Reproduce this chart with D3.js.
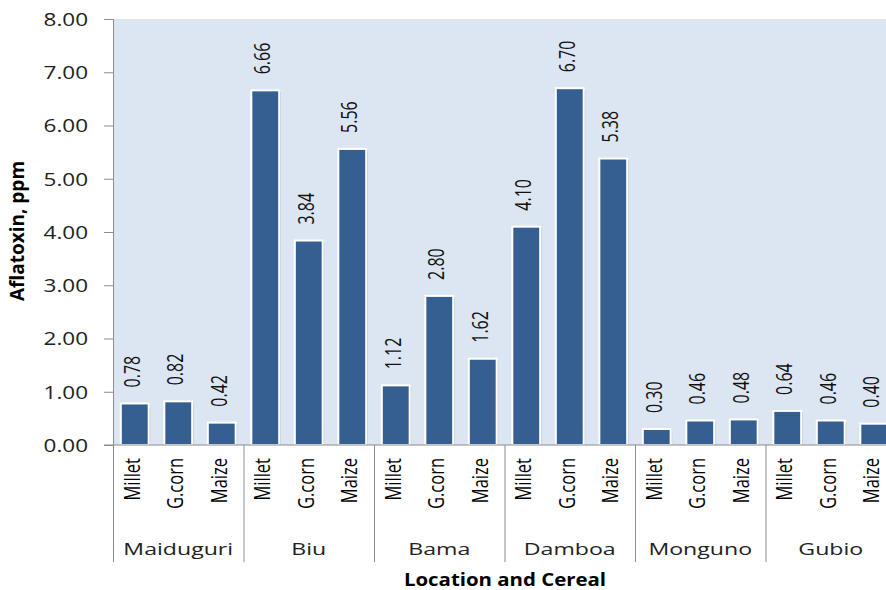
<!DOCTYPE html>
<html>
<head>
<meta charset="utf-8">
<script src="https://cdn.jsdelivr.net/npm/d3@7"></script>
<style>
  body { margin: 0; background: #fff; }
  svg { display: block; }
</style>
</head>
<body>
<div id="chart"></div>
<script>
// chart values
const locations = ["Maiduguri", "Biu", "Bama", "Damboa", "Monguno", "Gubio"];
const cereals = ["Millet", "G.corn", "Maize"];
const millet = [0.78, 6.66, 1.12, 4.10, 0.30, 0.64];
const gcorn  = [0.82, 3.84, 2.80, 6.70, 0.46, 0.46];
const maize  = [0.42, 5.56, 1.62, 5.38, 0.48, 0.40];
const yTicks = [0, 1, 2, 3, 4, 5, 6, 7, 8];

const series = [millet, gcorn, maize];
const rows = [];
locations.forEach((loc, i) => {
    cereals.forEach((c, j) => {
        rows.push({ key: loc + "|" + c, loc: loc, cereal: c, value: series[j][i] });
    });
});

const width = 886;
const height = 590;
const plotLeft = 113;
const plotTop = 19;
const plotBottom = 445;
const catWidth = 43.5;
const plotRight = plotLeft + rows.length * catWidth;
const font = "Open Sans, sans-serif";

const x = d3.scaleBand()
    .domain(rows.map(d => d.key))
    .range([plotLeft, plotRight])
    .paddingInner(0.36)
    .paddingOuter(0.18);

const y = d3.scaleLinear().domain([0, 8]).range([plotBottom, plotTop]);

const svg = d3.select("#chart").append("svg")
    .attr("width", width)
    .attr("height", height);

// plot background
svg.append("rect")
    .attr("x", plotLeft)
    .attr("y", plotTop)
    .attr("width", plotRight - plotLeft)
    .attr("height", plotBottom - plotTop)
    .attr("fill", "#dce6f2");

// bars, with a faint shadow and white edge
svg.append("g").selectAll("rect")
    .data(rows)
    .join("rect")
        .attr("x", d => x(d.key) + 1.5)
        .attr("y", d => y(d.value) + 1.5)
        .attr("width", x.bandwidth())
        .attr("height", d => plotBottom - y(d.value) - 1.5)
        .attr("fill", "#b9c3cf");

svg.append("g").selectAll("rect")
    .data(rows)
    .join("rect")
        .attr("x", d => x(d.key))
        .attr("y", d => y(d.value))
        .attr("width", x.bandwidth())
        .attr("height", d => plotBottom - y(d.value))
        .attr("fill", "#365f91")
        .attr("stroke", "#ffffff")
        .attr("stroke-width", 2);

// value labels, rotated (the picture is stretched sideways, so widen the glyphs)
svg.append("g").selectAll("text")
    .data(rows)
    .join("text")
        .attr("transform", d => `translate(${x(d.key) + x.bandwidth() / 2 + 5},${y(d.value) - 16}) rotate(-90) scale(1,1.4)`)
        .attr("text-anchor", "start")
        .attr("font-family", font)
        .attr("font-size", "16px")
        .attr("fill", "#111")
        .text(d => d.value.toFixed(2));

// y axis
const yAxis = d3.axisLeft(y)
    .tickValues(yTicks)
    .tickFormat(d3.format(".2f"))
    .tickSize(9);

const gy = svg.append("g")
    .attr("transform", `translate(${plotLeft},0)`)
    .call(yAxis);
gy.select(".domain").attr("stroke", "#8c8c8c");
gy.selectAll(".tick line").attr("stroke", "#8c8c8c");
gy.selectAll(".tick text")
    .attr("x", -20)
    .attr("dy", "0.36em")
    .attr("transform", "scale(1.25,1)")
    .attr("font-family", font)
    .attr("font-size", "18px")
    .attr("fill", "#222");

// x axis baseline
svg.append("line")
    .attr("x1", plotLeft - 9)
    .attr("x2", plotRight)
    .attr("y1", plotBottom)
    .attr("y2", plotBottom)
    .attr("stroke", "#8c8c8c");

// group separators
svg.append("g").selectAll("line")
    .data(locations)
    .join("line")
        .attr("x1", (d, i) => plotLeft + i * 3 * x.step() + 0.5)
        .attr("x2", (d, i) => plotLeft + i * 3 * x.step() + 0.5)
        .attr("y1", plotBottom)
        .attr("y2", 562)
        .attr("stroke", "#8c8c8c");

// cereal labels
svg.append("g").selectAll("text")
    .data(rows)
    .join("text")
        .attr("transform", d => `translate(${x(d.key) + x.bandwidth() / 2 + 5},458) rotate(-90) scale(1,1.35)`)
        .attr("text-anchor", "end")
        .attr("font-family", font)
        .attr("font-size", "16.5px")
        .attr("fill", "#000")
        .text(d => d.cereal);

// location labels
svg.append("g").selectAll("text")
    .data(locations)
    .join("text")
        .attr("transform", (d, i) => `translate(${plotLeft + (i * 3 + 1.5) * x.step()},555) scale(1.36,1)`)
        .attr("text-anchor", "middle")
        .attr("font-family", font)
        .attr("font-size", "17px")
        .attr("fill", "#222")
        .text(d => d);

// axis titles
svg.append("text")
    .attr("transform", "translate(505,586) scale(1.2,1)")
    .attr("text-anchor", "middle")
    .attr("font-family", font)
    .attr("font-weight", "bold")
    .attr("font-size", "17px")
    .attr("fill", "#000")
    .text("Location and Cereal");

svg.append("text")
    .attr("transform", "translate(24,231) rotate(-90)")
    .attr("text-anchor", "middle")
    .attr("font-family", font)
    .attr("font-weight", "bold")
    .attr("font-size", "19px")
    .attr("fill", "#000")
    .text("Aflatoxin, ppm");
</script>
</body>
</html>
